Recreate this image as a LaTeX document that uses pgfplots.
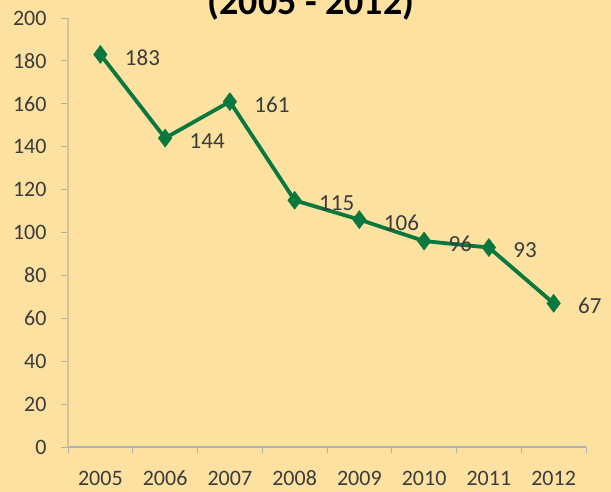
\documentclass[border=0pt]{standalone}
\usepackage{pgfplots}
\pgfplotsset{compat=1.18}
\usepackage{fontspec}
\setmainfont{Carlito}
\definecolor{bg}{RGB}{252,225,160}
\definecolor{lgreen}{RGB}{8,120,62}
\definecolor{txt}{RGB}{60,60,60}
\definecolor{yax}{RGB}{212,196,150}
\definecolor{xax}{RGB}{170,178,180}
\begin{document}
\begin{tikzpicture}[x=1pt,y=1pt]
\fill[bg] (0,0) rectangle (611,492);
\path[use as bounding box] (0,0) rectangle (611,492);
\node[anchor=base,font=\fontsize{38}{42}\selectfont\bfseries,text=black] at (311,477) {(2005 - 2012)};
\begin{axis}[
  at={(68pt,45pt)}, anchor=south west,
  scale only axis, width=518pt, height=429pt,
  xmin=0.5, xmax=8.5, ymin=0, ymax=200,
  xtick={1,...,8},
  xticklabels={2005,2006,2007,2008,2009,2010,2011,2012},
  minor xtick={0.5,1.5,...,8.5},
  ytick={0,20,...,200},
  axis x line*=bottom, axis y line*=left,
  x axis line style={xax, line width=1.5pt, -},
  y axis line style={yax, line width=2.5pt, -},
  major x tick style={draw=none},
  minor x tick style={xax, line width=0.8pt},
  ytick style={xax, line width=0.8pt},
  minor tick length=6pt, major tick length=7pt,
  xtick align=outside, ytick align=outside,
  tick label style={font=\fontsize{22}{24}\selectfont, text=txt},
  /pgf/number format/assume math mode=true,
  xticklabel style={anchor=north, text height=14pt, text depth=0pt, yshift=-14pt},
  yticklabel style={xshift=-11pt},
  clip=false,
]
\addplot[lgreen, line width=3.8pt, mark=diamond*, mark size=9pt,
  mark options={solid, fill=lgreen, draw=lgreen, line width=0.5pt},
  nodes near coords, point meta=explicit symbolic,
  every node near coord/.style={anchor=west, xshift=21pt, yshift=-3pt,
    font=\fontsize{23}{25}\selectfont, text=txt}]
  table[meta=lab] {
x y lab
1 183 183
2 144 144
3 161 161
4 115 115
5 106 106
6 96 96
7 93 93
8 67 67
};
\end{axis}
\end{tikzpicture}
\end{document}
